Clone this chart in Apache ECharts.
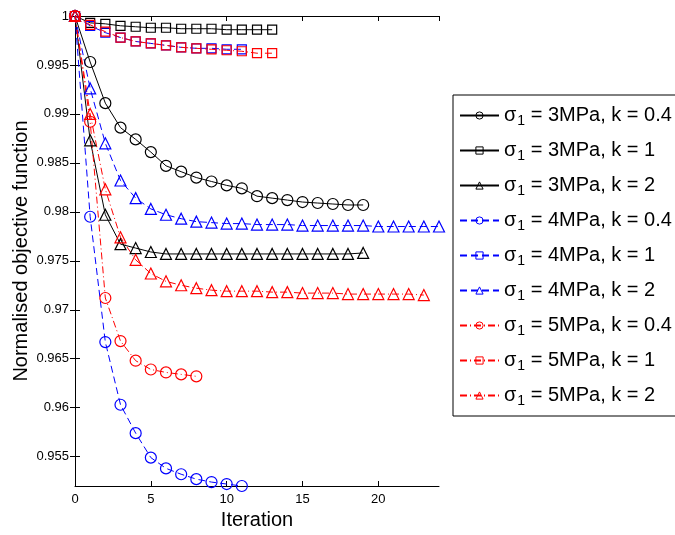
<!DOCTYPE html>
<html>
<head>
<meta charset="utf-8">
<script src="https://cdn.jsdelivr.net/npm/echarts@6/dist/echarts.min.js"></script>
<style>
  html, body { margin: 0; padding: 0; background: #fff; }
  #chart { width: 675px; height: 535px; }
</style>
</head>
<body>
<div id="chart"></div>
<script>
// values, index = iteration
var s3k04 = [1, 0.9953, 0.9911, 0.9886, 0.9874, 0.9861, 0.9847, 0.9841, 0.9835, 0.9831, 0.9827, 0.9824,
  0.9816, 0.9814, 0.9812, 0.9810, 0.9809, 0.9808, 0.9807, 0.9807];
var s3k1 = [1, 0.9993, 0.9992, 0.9990, 0.9989, 0.9988, 0.9988, 0.9987, 0.9987, 0.9987, 0.9986, 0.9986,
  0.9986, 0.9986];
var s3k2 = [1, 0.9873, 0.9797, 0.9767, 0.9763, 0.9759, 0.9757, 0.9757, 0.9757, 0.9757, 0.9757, 0.9757,
  0.9757, 0.9757, 0.9757, 0.9757, 0.9757, 0.9757, 0.9757, 0.9758];
var s4k04 = [1, 0.9795, 0.9667, 0.9603, 0.9574, 0.9549, 0.9538, 0.9532, 0.9527, 0.9524, 0.9522, 0.9520];
var s4k1 = [1, 0.9990, 0.9983, 0.9978, 0.9974, 0.9972, 0.9970, 0.9968, 0.9967, 0.9967, 0.9966, 0.9966];
var s4k2 = [1, 0.9926, 0.9870, 0.9832, 0.9814, 0.9803, 0.9797, 0.9793, 0.9790, 0.9789, 0.9788, 0.9788,
  0.9787, 0.9787, 0.9787, 0.9786, 0.9786, 0.9786, 0.9786, 0.9786, 0.9785, 0.9785, 0.9785, 0.9785, 0.9785];
var s5k04 = [1, 0.9892, 0.9712, 0.9668, 0.9648, 0.9639, 0.9636, 0.9634, 0.9632];
var s5k1 = [1, 0.9991, 0.9984, 0.9978, 0.9974, 0.9972, 0.9970, 0.9968, 0.9967, 0.9966, 0.9965, 0.9964,
  0.9962, 0.9962];
var s5k2 = [1, 0.9900, 0.9823, 0.9774, 0.9751, 0.9737, 0.9729, 0.9725, 0.9722, 0.9720, 0.9719, 0.9719,
  0.9719, 0.9718, 0.9718, 0.9717, 0.9717, 0.9717, 0.9716, 0.9716, 0.9716, 0.9716, 0.9716, 0.9715];

var names = ['σ1 = 3MPa, k = 0.4', 'σ1 = 3MPa, k = 1', 'σ1 = 3MPa, k = 2',
  'σ1 = 4MPa, k = 0.4', 'σ1 = 4MPa, k = 1', 'σ1 = 4MPa, k = 2',
  'σ1 = 5MPa, k = 0.4', 'σ1 = 5MPa, k = 1', 'σ1 = 5MPa, k = 2'];
var yTicks = [0.955, 0.96, 0.965, 0.97, 0.975, 0.98, 0.985, 0.99, 0.995, 1];

var font = 'Liberation Sans, Arial, Helvetica, sans-serif';
var dashed = [7, 4];
var dashDot = [7, 3, 1, 3];

function mk(name, data, color, symbol, size, type) {
  return {
    name: name,
    type: 'line',
    data: data.map(function (v, i) { return [i, v]; }),
    symbol: symbol,
    symbolSize: size,
    showAllSymbol: true,
    clip: false,
    lineStyle: { color: color, width: 1, type: type },
    itemStyle: { color: 'rgba(255,255,255,0)', borderColor: color, borderWidth: 1.2 },
    emphasis: { disabled: true }
  };
}

var chart = echarts.init(document.getElementById('chart'));
var option = {
  animation: false,
  backgroundColor: '#fff',
  grid: { left: 75, top: 16, width: 364, height: 479 },
  legend: {
    orient: 'vertical',
    left: 453,
    top: 95,
    padding: [8, 40, 8, 6],
    itemWidth: 39,
    itemHeight: 9,
    itemGap: 10,
    borderColor: '#000',
    borderWidth: 1,
    backgroundColor: '#fff',
    data: names,
    itemStyle: { color: 'rgba(255,255,255,0)', borderWidth: 1 },
    formatter: function (n) {
      return '{t|σ}{s|1}{t|' + n.slice(2) + '}';
    },
    textStyle: {
      color: '#000',
      fontFamily: font,
      fontSize: 20,
      rich: {
        t: { fontSize: 20, fontFamily: font, color: '#000', lineHeight: 22 },
        s: { fontSize: 14, fontFamily: font, color: '#000', padding: [11, 0, 0, 1], lineHeight: 22 }
      }
    }
  },
  xAxis: [{
    type: 'value',
    min: 0,
    max: 24,
    interval: 5,
    name: 'Iteration',
    nameLocation: 'middle',
    nameGap: 24,
    nameMoveOverlap: false,
    nameTextStyle: { fontSize: 20, fontFamily: font, color: '#000' },
    axisLine: { lineStyle: { color: '#000', width: 1 } },
    axisTick: { inside: true, length: 5, lineStyle: { color: '#000' } },
    axisLabel: { fontSize: 13, fontFamily: font, color: '#000', margin: 7, showMaxLabel: false },
    splitLine: { show: false }
  }, {
    type: 'value',
    position: 'top',
    min: 0,
    max: 24,
    interval: 5,
    axisLine: { show: true, lineStyle: { color: '#000', width: 1 } },
    axisTick: { inside: true, length: 5, lineStyle: { color: '#000' } },
    axisLabel: { show: false },
    splitLine: { show: false }
  }],
  yAxis: [{
    type: 'value',
    min: 0.952,
    max: 1,
    name: 'Normalised objective function',
    nameLocation: 'middle',
    nameGap: 44,
    nameMoveOverlap: false,
    nameTextStyle: { fontSize: 20, fontFamily: font, color: '#000' },
    axisLine: { show: true, lineStyle: { color: '#000', width: 1 } },
    axisTick: { inside: true, length: 5, customValues: yTicks, lineStyle: { color: '#000' } },
    axisLabel: { fontSize: 13, fontFamily: font, color: '#000', margin: 6, customValues: yTicks },
    splitLine: { show: false }
  }, {
    type: 'value',
    position: 'right',
    min: 0.952,
    max: 1,
    axisLine: { show: true, lineStyle: { color: '#000', width: 1 } },
    axisTick: { inside: true, length: 5, customValues: yTicks, lineStyle: { color: '#000' } },
    axisLabel: { show: false },
    splitLine: { show: false }
  }],
  series: [
    mk(names[0], s3k04, '#000', 'circle', 11, 'solid'),
    mk(names[1], s3k1, '#000', 'rect', 9, 'solid'),
    mk(names[2], s3k2, '#000', 'triangle', 11, 'solid'),
    mk(names[3], s4k04, '#0000ff', 'circle', 11, dashed),
    mk(names[4], s4k1, '#0000ff', 'rect', 9, dashed),
    mk(names[5], s4k2, '#0000ff', 'triangle', 11, dashed),
    mk(names[6], s5k04, '#ff0000', 'circle', 11, dashDot),
    mk(names[7], s5k1, '#ff0000', 'rect', 9, dashDot),
    mk(names[8], s5k2, '#ff0000', 'triangle', 11, dashDot)
  ]
};
chart.setOption(option);
</script>
</body>
</html>
